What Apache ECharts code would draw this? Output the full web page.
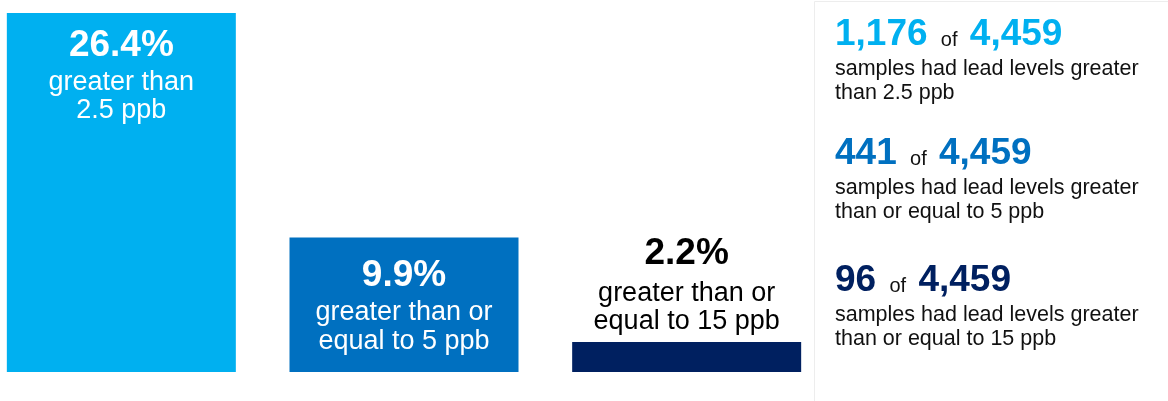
<!DOCTYPE html>
<html>
<head>
<meta charset="utf-8">
<script src="https://cdn.jsdelivr.net/npm/echarts@6/dist/echarts.min.js"></script>
<style>
html,body{margin:0;padding:0;background:#fff;}
#chart{width:1168px;height:401px;}
</style>
</head>
<body>
<div id="chart"></div>
<script>
// ---- data ----
var categories = ['> 2.5 ppb', '>= 5 ppb', '>= 15 ppb'];
var percentValues = [26.4, 9.9, 2.2];
var barDescriptions = [['greater than', '2.5 ppb'], ['greater than or', 'equal to 5 ppb'], ['greater than or', 'equal to 15 ppb']];
var sampleCounts = [1176, 441, 96];
var totalSamples = 4459;
var panelDescriptions = [
  ['samples had lead levels greater', 'than 2.5 ppb'],
  ['samples had lead levels greater', 'than or equal to 5 ppb'],
  ['samples had lead levels greater', 'than or equal to 15 ppb']
];
var colors = ['#00B0F0', '#0070C0', '#002060'];

// ---- build ----
var FONT = '"Liberation Sans", Arial, Helvetica, sans-serif';
function fmt(n) { return n.toLocaleString('en-US'); }

var labelCfg = [
  { position: 'insideTop', distance: 11, color: '#ffffff', pLH: 44 },
  { position: 'insideTop', distance: 16, color: '#ffffff', pLH: 45 },
  { position: 'top', distance: 6, color: '#000000', pLH: 50 }
];

var barData = percentValues.map(function (v, i) {
  var c = labelCfg[i];
  return {
    value: v,
    itemStyle: { color: colors[i] },
    label: {
      show: true,
      position: c.position,
      distance: c.distance,
      align: 'center',
      formatter: '{p|' + v.toFixed(1) + '%}\n{d|' + barDescriptions[i][0] + '}\n{d|' + barDescriptions[i][1] + '}',
      rich: {
        p: { fontFamily: FONT, fontSize: 37, fontWeight: 'bold', color: c.color, lineHeight: c.pLH, align: 'center' },
        d: { fontFamily: FONT, fontSize: 27, color: c.color, lineHeight: 28.5, align: 'center' }
      }
    }
  };
});

var blockTops = [13, 132.5, 259.5];
var graphics = [{
  type: 'rect',
  shape: { x: 814.5, y: 1.5, width: 400, height: 420 },
  style: { fill: 'none', stroke: '#ededed', lineWidth: 1 },
  silent: true
}];
sampleCounts.forEach(function (n, i) {
  graphics.push({
    type: 'text',
    x: 835,
    y: blockTops[i],
    silent: true,
    style: {
      text: '{n|' + fmt(n) + ' }{o|of}{n| ' + fmt(totalSamples) + '}\n{t|' + panelDescriptions[i][0] + '}\n{t|' + panelDescriptions[i][1] + '}',
      verticalAlign: 'top',
      align: 'left',
      rich: {
        n: { fontFamily: FONT, fontSize: 37, fontWeight: 'bold', fill: colors[i], lineHeight: 44, verticalAlign: 'bottom', padding: [0, 0, 4, 0] },
        o: { fontFamily: FONT, fontSize: 20, fill: '#111111', lineHeight: 30, verticalAlign: 'bottom', padding: [0, 2, 7, 3] },
        t: { fontFamily: FONT, fontSize: 21.5, fill: '#111111', lineHeight: 24 }
      }
    }
  });
});

var chart = echarts.init(document.getElementById('chart'), null, { renderer: 'canvas' });
chart.setOption({
  animation: false,
  backgroundColor: '#ffffff',
  grid: { left: -20, width: 848, top: 13, bottom: 29, outerBoundsMode: 'none', containLabel: false },
  xAxis: { type: 'category', data: categories, show: false },
  yAxis: { type: 'value', min: 0, max: 26.4, show: false },
  series: [{
    type: 'bar',
    barWidth: 229,
    data: barData
  }],
  graphic: graphics
});
</script>
</body>
</html>
